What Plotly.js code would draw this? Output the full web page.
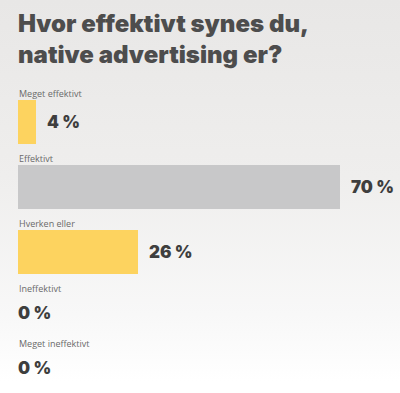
<!DOCTYPE html>
<html>
<head>
<meta charset="utf-8">
<script src="https://cdn.plot.ly/plotly-3.0.1.min.js"></script>
<style>
html,body{margin:0;padding:0;}
body{width:400px;height:393px;background:linear-gradient(#e8e7e6 0%,#efeeed 45%,#f8f8f8 80%,#ffffff 97%);}
#chart{width:400px;height:393px;}
</style>
</head>
<body>
<div id="chart"></div>
<script>
const titleText = "Hvor effektivt synes du,<br>native advertising er?";
const categories = ["Meget effektivt", "Effektivt", "Hverken eller", "Ineffektivt", "Meget ineffektivt"];
const values = [4, 70, 26, 0, 0];
const valueLabels = ["4 %", "70 %", "26 %", "0 %", "0 %"];
const barColors = ["#fdd35f", "#c8c8c9", "#fdd35f", "#fdd35f", "#fdd35f"];

// Row layout (pixel units on the y axis)
const FIRST_LABEL = 93, ROW = 65, EMPTY_ROW = 55, BAR_OFFSET = 28.5, EMPTY_OFFSET = 25, BAR_H = 44;
const labelY = [], barY = [];
let cur = FIRST_LABEL;
values.forEach(v => {
  labelY.push(cur);
  barY.push(cur + (v > 0 ? BAR_OFFSET : EMPTY_OFFSET));
  cur += (v > 0 ? ROW : EMPTY_ROW);
});

const trace = {
  type: "bar",
  orientation: "h",
  x: values,
  y: barY,
  width: BAR_H,
  marker: {color: barColors, line: {width: 0}},
  hoverinfo: "skip"
};

const annotations = [{
  x: 0, y: 7, xref: "paper", yref: "y", xshift: -2,
  text: titleText, showarrow: false, xanchor: "left", yanchor: "top", align: "left",
  font: {family: "Inter, Lato, sans-serif", size: 24, color: "#4d4d4d", weight: 900}
}];
categories.forEach((c, i) => {
  annotations.push({
    x: 0, y: labelY[i], xref: "x", yref: "y", xshift: -1,
    text: c, showarrow: false, xanchor: "left", yanchor: "middle",
    font: {family: "'Open Sans', Lato, sans-serif", size: 9, color: "#6a6a6a"}
  });
  annotations.push({
    x: values[i], y: barY[i], xref: "x", yref: "y",
    text: valueLabels[i], showarrow: false, xanchor: "left", yanchor: "middle",
    xshift: values[i] > 0 ? 9 : -2,
    font: {family: "Inter, Lato, sans-serif", size: 17, color: "#3e3e3e", weight: 900}
  });
});

const layout = {
  width: 400, height: 393,
  margin: {l: 18, r: 0, t: 0, b: 0},
  paper_bgcolor: "rgba(0,0,0,0)",
  plot_bgcolor: "rgba(0,0,0,0)",
  xaxis: {range: [0, 83], visible: false, fixedrange: true},
  yaxis: {range: [393, 0], visible: false, fixedrange: true},
  showlegend: false,
  bargap: 0,
  annotations: annotations
};

Plotly.newPlot("chart", [trace], layout, {staticPlot: true, displayModeBar: false});
</script>
</body>
</html>
